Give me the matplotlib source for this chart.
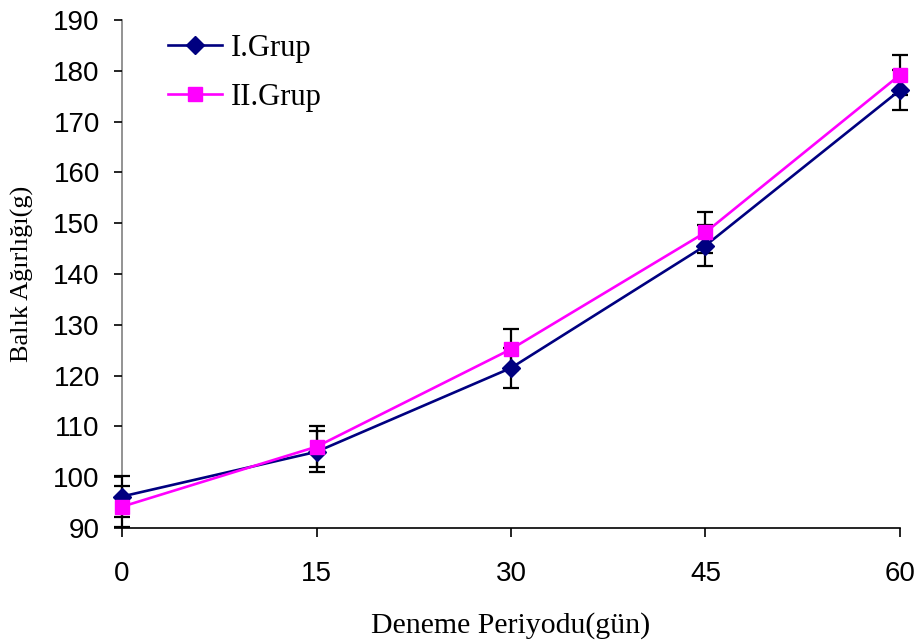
import matplotlib
matplotlib.use("Agg")
import matplotlib.pyplot as plt

days = [0, 15, 30, 45, 60]
grup1 = [96.2, 105.0, 121.5, 145.6, 176.2]
grup2 = [94.2, 106.0, 125.2, 148.2, 179.2]
err1 = [4, 4, 4, 4, 4]
err2 = [4, 4, 4, 4, 4]
labels = ["I.Grup", "II.Grup"]

fig = plt.figure(figsize=(9.2, 6.44), dpi=100)
ax = fig.add_axes([122/920, 1-528/644, (900-122)/920, (528-20)/644])

for vals, err in ((grup1, err1), (grup2, err2)):
    eb = ax.errorbar(days, vals, yerr=err, fmt='none', ecolor='black', elinewidth=1.6,
                     capsize=5.8, capthick=1.6, zorder=2)
    for art in eb.lines[1] + eb.lines[2]:
        art.set_clip_on(False)
ax.plot(days, grup1, color='#000080', lw=1.9, marker='D', ms=9.5, mfc='#000080',
        mec='#000080', label=labels[0], zorder=3, clip_on=False)
ax.plot(days, grup2, color='#FF00FF', lw=1.9, marker='s', ms=10.5, mfc='#FF00FF',
        mec='#FF00FF', label=labels[1], zorder=4, clip_on=False)

ax.set_xlim(0, 60)
ax.set_ylim(90, 190)
ax.set_xticks(days)
ax.set_yticks(range(90, 191, 10))
for s in ['top', 'right']:
    ax.spines[s].set_visible(False)
ax.spines['left'].set_color('#808080')
ax.spines['left'].set_linewidth(1.2)
ax.spines['bottom'].set_linewidth(1.2)
ax.spines['left'].set_zorder(1)
ax.tick_params(axis='y', direction='out', length=6, width=1.2, labelsize=20, pad=10)
ax.tick_params(axis='x', direction='out', length=6.5, width=1.2, labelsize=20, pad=17)
for lab in ax.get_xticklabels() + ax.get_yticklabels():
    lab.set_fontfamily('Liberation Sans')

ax.set_xlabel("Deneme Periyodu(gün)", fontfamily='Liberation Serif', fontsize=21.5,
              labelpad=18)
ax.set_ylabel("Balık Ağırlığı(g)", fontfamily='Liberation Serif', fontsize=19,
              labelpad=14)

leg = fig.legend(loc='upper left', bbox_to_anchor=(168/920, 1-34/644), frameon=False,
                 prop={'family': 'Liberation Serif', 'size': 22},
                 handlelength=1.77, labelspacing=0.66, handletextpad=0.3,
                 borderpad=0, borderaxespad=0)

fig.savefig("out.png", dpi=100)
